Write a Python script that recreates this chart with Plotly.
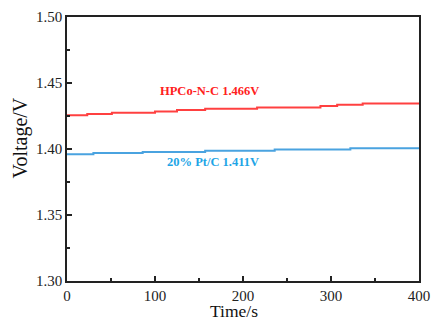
import plotly.graph_objects as go

# Data
red_t = [0, 23, 51, 100, 125, 157, 216, 288, 307, 336, 400]
red_v = [1.4255, 1.4265, 1.4275, 1.4285, 1.4295, 1.4305, 1.4315, 1.4325, 1.4335, 1.4345, 1.4345]
blue_t = [0, 30, 86, 157, 236, 322, 400]
blue_v = [1.3960, 1.3969, 1.3978, 1.3987, 1.3996, 1.4005, 1.4005]
red_label = "HPCo-N-C 1.466V"
blue_label = "20% Pt/C 1.411V"
x_title = "Time/s"
y_title = "Voltage/V"

FONT = "Liberation Serif, Times New Roman, serif"

fig = go.Figure()
fig.add_trace(go.Scatter(x=red_t, y=red_v, mode="lines", line_shape="hv",
                         line=dict(color="#ff4040", width=2), showlegend=False))
fig.add_trace(go.Scatter(x=blue_t, y=blue_v, mode="lines", line_shape="hv",
                         line=dict(color="#4aa3e0", width=2), showlegend=False))

fig.add_annotation(x=162, y=1.444, text="<b>" + red_label + "</b>", showarrow=False,
                   xanchor="center", yanchor="middle",
                   font=dict(family=FONT, size=12.5, color="#ff2020"))
fig.add_annotation(x=166, y=1.3905, text="<b>" + blue_label + "</b>", showarrow=False,
                   xanchor="center", yanchor="middle",
                   font=dict(family=FONT, size=12.5, color="#1ea5e6"))

# axis titles (positioned in paper coordinates)
fig.add_annotation(xref="paper", yref="paper", x=0.474, y=-0.1553, text=x_title,
                   showarrow=False, xanchor="center", yanchor="bottom", borderpad=0,
                   font=dict(family=FONT, size=17.5, color="#111"))
fig.add_annotation(xref="paper", yref="paper", x=-0.1335, y=0.54, text=y_title,
                   showarrow=False, xanchor="center", yanchor="middle", textangle=-90,
                   font=dict(family=FONT, size=20, color="#111"))

axis_common = dict(showgrid=False, zeroline=False, showline=True, linecolor="#222",
                   linewidth=1.6, mirror=True, ticks="inside", ticklen=5, tickwidth=1.5,
                   tickcolor="#222", tickfont=dict(family=FONT, size=15, color="#222"))

fig.update_xaxes(range=[0, 400], dtick=100, tick0=0,
                 minor=dict(dtick=50, ticks="inside", ticklen=3, tickwidth=1.5, tickcolor="#222"),
                 **axis_common)
fig.update_yaxes(range=[1.30, 1.50], dtick=0.05, tick0=1.30, tickformat=".2f",
                 minor=dict(dtick=0.025, ticks="inside", ticklen=3, tickwidth=1.5, tickcolor="#222"),
                 **axis_common)

fig.update_layout(width=432, height=321, margin=dict(l=67, r=13, t=17, b=40, autoexpand=False),
                  plot_bgcolor="white", paper_bgcolor="white")

fig.write_html("out.html")
